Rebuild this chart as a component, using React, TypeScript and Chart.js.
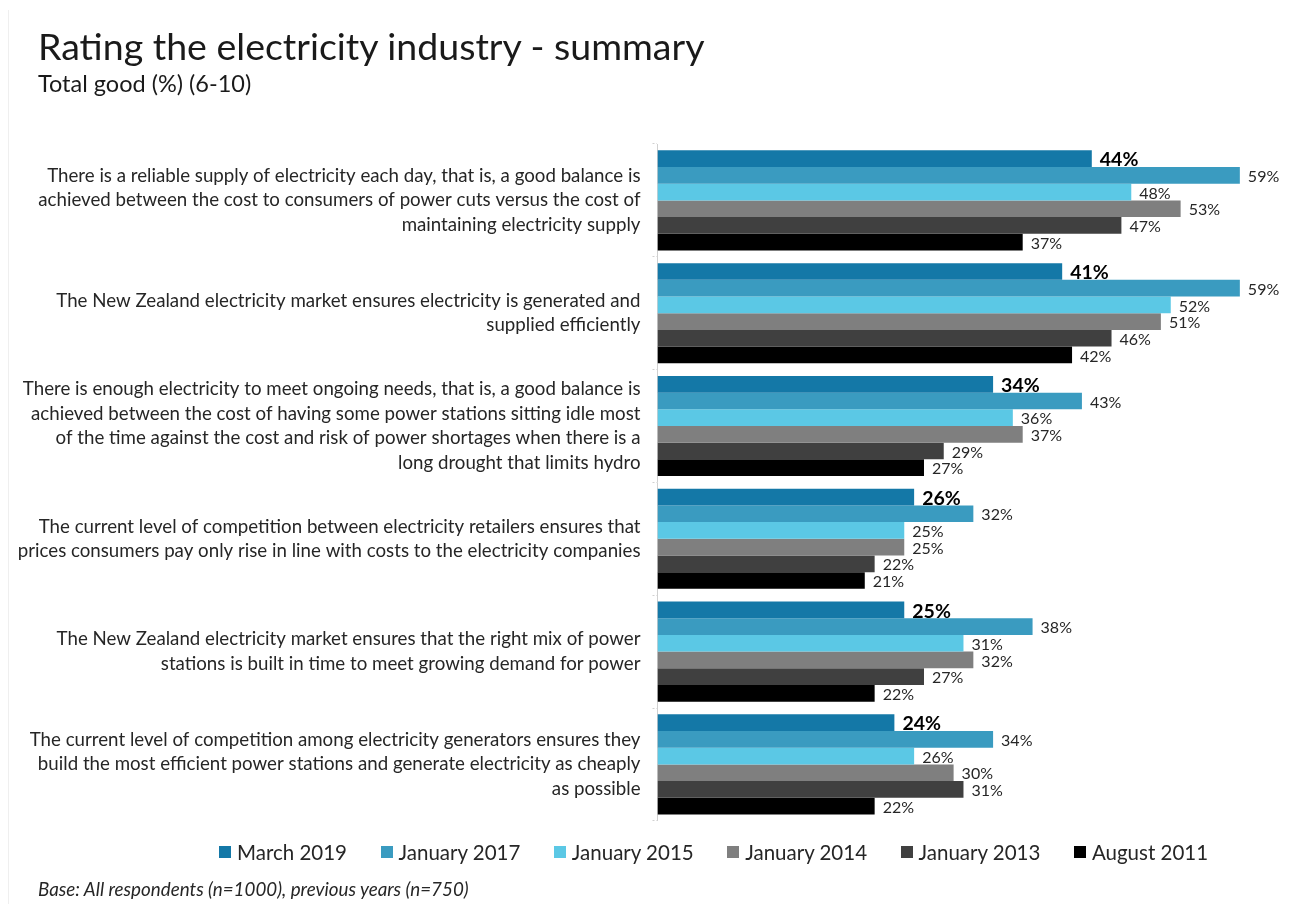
import React, { useEffect, useRef } from "react";
import { Chart, registerables } from "chart.js";

Chart.register(...registerables);

const FONT = "Lato, 'Open Sans', sans-serif";

const categories: string[][] = [
  [
    "There is a reliable supply of electricity each day, that is, a good balance is",
    "achieved between the cost to consumers of power cuts versus the cost of",
    "maintaining electricity supply",
  ],
  [
    "The New Zealand electricity market ensures electricity is generated and",
    "supplied efficiently",
  ],
  [
    "There is enough electricity to meet ongoing needs, that is, a good balance is",
    "achieved between the cost of having some power stations sitting idle most",
    "of the time against the cost and risk of power shortages when there is a",
    "long drought that limits hydro",
  ],
  [
    "The current level of competition between electricity retailers ensures that",
    "prices consumers pay only rise in line with costs to the electricity companies",
  ],
  [
    "The New Zealand electricity market ensures that the right mix of power",
    "stations is built in time to meet growing demand for power",
  ],
  [
    "The current level of competition among electricity generators ensures they",
    "build the most efficient power stations and generate electricity as cheaply",
    "as possible",
  ],
];

const seriesNames = [
  "March 2019",
  "January 2017",
  "January 2015",
  "January 2014",
  "January 2013",
  "August 2011",
];

const march2019 = [44, 41, 34, 26, 25, 24];
const january2017 = [59, 59, 43, 32, 38, 34];
const january2015 = [48, 52, 36, 25, 31, 26];
const january2014 = [53, 51, 37, 25, 32, 30];
const january2013 = [47, 46, 29, 22, 27, 31];
const august2011 = [37, 42, 27, 21, 22, 22];

const seriesValues = [march2019, january2017, january2015, january2014, january2013, august2011];
const seriesColors = ["#1478a7", "#3a9bc0", "#5bc8e5", "#7f7f7f", "#404040", "#000000"];

const valueLabels = {
  id: "valueLabels",
  afterDatasetsDraw(chart: any) {
    const ctx = chart.ctx;
    chart.data.datasets.forEach((ds: any, i: number) => {
      const meta = chart.getDatasetMeta(i);
      meta.data.forEach((bar: any, j: number) => {
        const v = ds.data[j];
        ctx.save();
        ctx.font = i === 0 ? `bold 19.5px ${FONT}` : `16px ${FONT}`;
        ctx.fillStyle = i === 0 ? "#000000" : "#262626";
        ctx.textBaseline = "middle";
        ctx.textAlign = "left";
        ctx.fillText(`${v}%`, bar.x + 8, bar.y + 1.5);
        ctx.restore();
      });
    });
  },
};

export default function App() {
  const canvasRef = useRef<HTMLCanvasElement | null>(null);

  useEffect(() => {
    if (!canvasRef.current) return;
    const chart = new Chart(canvasRef.current, {
      type: "bar",
      data: {
        labels: categories,
        datasets: seriesNames.map((name, i) => ({
          label: name,
          data: seriesValues[i],
          backgroundColor: seriesColors[i],
          borderWidth: 0,
          barPercentage: 1,
          categoryPercentage: 0.887,
        })),
      },
      options: {
        indexAxis: "y",
        responsive: false,
        animation: false,
        devicePixelRatio: 1,
        layout: { padding: { left: 0, right: 4.8, top: 144, bottom: 83.2 } },
        plugins: {
          legend: { display: false },
          title: { display: false },
          tooltip: { enabled: false },
        },
        scales: {
          x: { display: false, min: 0, max: 64 },
          y: {
            afterFit: (scale: any) => {
              scale.width = 657.5;
            },
            border: { display: true, color: "#d0d0d0", dash: [2, 2] },
            grid: {
              drawOnChartArea: false,
              drawTicks: true,
              tickLength: 5,
              color: "#d0d0d0",
              tickBorderDash: [2, 2],
            },
            ticks: {
              autoSkip: false,
              padding: 12,
              color: "#262626",
              font: { family: FONT, size: 18.7, lineHeight: 1.31 },
            },
          },
        },
      },
      plugins: [valueLabels],
    });
    return () => chart.destroy();
  }, []);

  return (
    <div style={{ position: "absolute", left: 0, top: 0, width: 1294, height: 904, background: "#ffffff", fontFamily: FONT, overflow: "hidden" }}>
      <div style={{ position: "absolute", left: 8, top: 10, width: 1, height: 894, background: "#efefef" }} />
      <canvas ref={canvasRef} width={1294} height={904} style={{ position: "absolute", left: 0, top: 0 }} />
      <div style={{ position: "absolute", left: 38, top: 23, fontSize: 37.5, color: "#1a1a1a", whiteSpace: "nowrap" }}>
        Rating the electricity industry - summary
      </div>
      <div style={{ position: "absolute", left: 38, top: 69, fontSize: 23.5, color: "#1a1a1a", whiteSpace: "nowrap" }}>
        Total good (%) (6-10)
      </div>
      <div style={{ position: "absolute", left: 219, top: 840, display: "flex", alignItems: "center", fontSize: 20.5, color: "#262626", whiteSpace: "nowrap" }}>
        {seriesNames.map((name, i) => (
          <div key={name} style={{ display: "flex", alignItems: "center", marginRight: 33.5 }}>
            <span style={{ display: "inline-block", width: 12, height: 12, background: seriesColors[i], marginRight: 6 }} />
            <span>{name}</span>
          </div>
        ))}
      </div>
      <div style={{ position: "absolute", left: 38, top: 877, fontSize: 18.8, fontStyle: "italic", color: "#262626", whiteSpace: "nowrap" }}>
        Base: All respondents (n=1000), previous years (n=750)
      </div>
    </div>
  );
}
